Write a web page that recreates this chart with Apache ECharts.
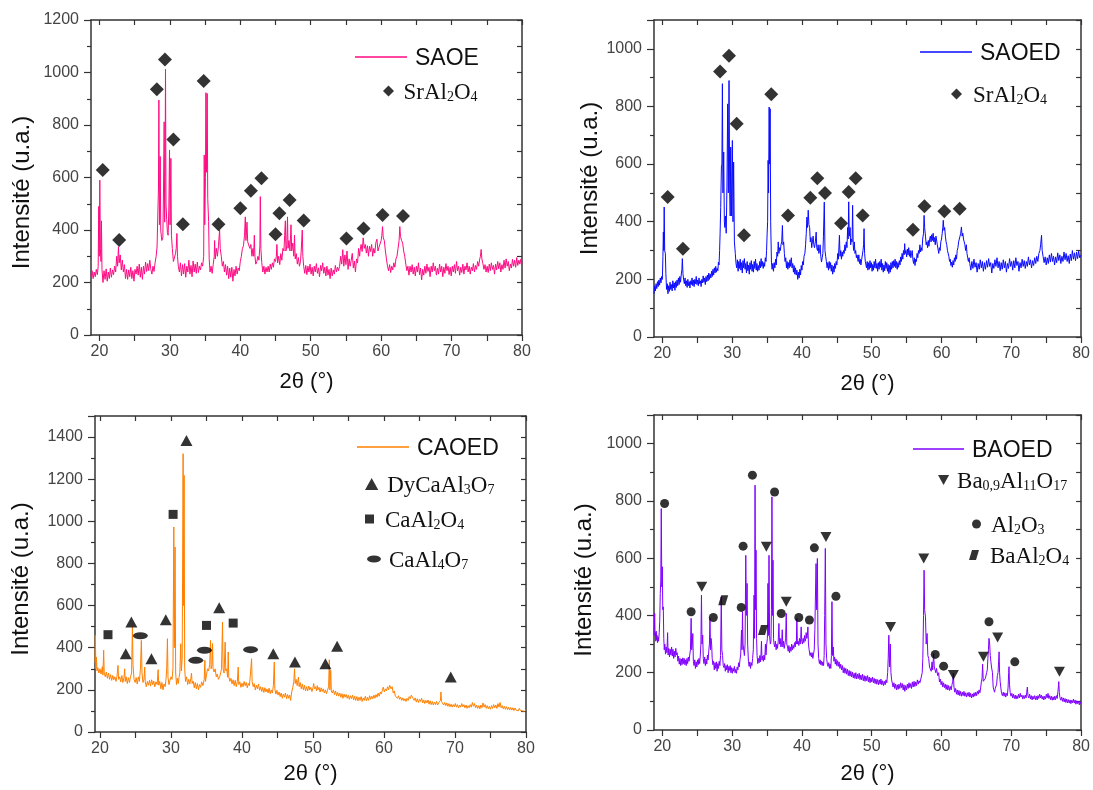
<!DOCTYPE html>
<html><head><meta charset="utf-8">
<script src="https://cdn.jsdelivr.net/npm/echarts@6/dist/echarts.min.js"></script>
<style>html,body{margin:0;padding:0;background:#fff}#c{width:1093px;height:790px}</style>
</head><body><div id="c"></div>
<script>
const xLabels = [20,30,40,50,60,70,80];
const xTicks = [20,25,30,35,40,45,50,55,60,65,70,75,80];

const saoe = [[18.8,225],[18.95,245],[19.1,215],[19.25,240],[19.4,222],[19.55,250],[19.7,230],[19.82,262],[19.9,490],[19.97,300],[20.05,590],[20.13,330],[20.22,280],[20.28,435],[20.36,250],[20.5,200],[20.65,245],[20.8,212],[20.95,252],[21.1,205],[21.25,240],[21.4,215],[21.55,255],[21.7,220],[21.85,248],[22.0,230],[22.15,262],[22.3,240],[22.45,300],[22.58,262],[22.7,336],[22.8,275],[22.95,305],[23.1,248],[23.25,285],[23.4,240],[23.55,268],[23.7,215],[23.85,250],[24.0,212],[24.15,248],[24.3,222],[24.45,258],[24.6,215],[24.75,245],[24.9,205],[25.05,250],[25.2,232],[25.35,262],[25.5,228],[25.65,270],[25.8,220],[25.95,258],[26.1,212],[26.25,262],[26.4,232],[26.55,278],[26.7,242],[26.85,272],[27.0,245],[27.15,285],[27.3,250],[27.45,232],[27.6,262],[27.75,242],[27.9,275],[28.05,300],[28.18,335],[28.3,340],[28.38,560],[28.44,895],[28.52,420],[28.58,520],[28.63,680],[28.7,400],[28.85,360],[29.0,370],[29.1,560],[29.19,812],[29.26,430],[29.32,600],[29.38,1012],[29.45,500],[29.55,440],[29.65,390],[29.75,380],[29.85,480],[29.95,705],[30.03,420],[30.14,673],[30.22,380],[30.35,330],[30.5,280],[30.65,275],[30.8,310],[30.9,330],[31.0,387],[31.08,300],[31.2,262],[31.35,240],[31.5,275],[31.65,225],[31.8,268],[31.95,232],[32.1,272],[32.25,220],[32.4,262],[32.55,240],[32.7,285],[32.85,232],[33.0,265],[33.15,222],[33.3,282],[33.45,240],[33.6,270],[33.75,235],[33.9,278],[34.05,238],[34.2,262],[34.35,248],[34.5,275],[34.65,262],[34.8,300],[34.88,686],[34.95,420],[35.05,600],[35.12,923],[35.2,620],[35.3,920],[35.38,520],[35.5,432],[35.58,290],[35.7,240],[35.85,262],[36.0,235],[36.15,268],[36.3,300],[36.35,360],[36.45,290],[36.6,330],[36.75,300],[36.9,340],[37.06,400],[37.15,330],[37.3,300],[37.45,262],[37.6,280],[37.75,240],[37.9,268],[38.05,228],[38.2,262],[38.35,215],[38.5,255],[38.65,220],[38.8,258],[38.95,205],[39.1,250],[39.25,225],[39.4,262],[39.55,232],[39.7,255],[39.85,245],[40.0,280],[40.15,300],[40.3,330],[40.45,340],[40.6,380],[40.71,450],[40.8,360],[40.95,430],[41.05,355],[41.2,350],[41.35,330],[41.5,345],[41.65,300],[41.8,330],[41.9,300],[41.99,380],[42.08,300],[42.2,270],[42.35,280],[42.5,300],[42.65,285],[42.78,340],[42.84,527],[42.92,330],[43.05,275],[43.2,240],[43.35,262],[43.5,232],[43.65,258],[43.8,240],[43.95,262],[44.1,240],[44.25,270],[44.4,250],[44.55,275],[44.7,258],[44.85,290],[45.0,280],[45.12,300],[45.2,345],[45.3,275],[45.45,300],[45.6,268],[45.75,310],[45.9,285],[46.05,330],[46.2,320],[46.3,380],[46.4,435],[46.48,320],[46.6,340],[46.7,450],[46.78,330],[46.9,360],[47.05,320],[47.2,420],[47.3,320],[47.45,350],[47.6,300],[47.7,380],[47.8,290],[47.95,310],[48.1,270],[48.25,295],[48.4,262],[48.55,280],[48.65,320],[48.8,400],[48.88,300],[49.0,262],[49.15,235],[49.3,265],[49.45,230],[49.6,262],[49.75,240],[49.9,270],[50.05,232],[50.2,258],[50.35,225],[50.5,262],[50.65,240],[50.8,272],[50.95,235],[51.1,256],[51.25,222],[51.4,265],[51.55,245],[51.7,275],[51.85,235],[52.0,258],[52.15,225],[52.3,262],[52.45,228],[52.6,250],[52.75,215],[52.9,255],[53.05,225],[53.2,248],[53.35,232],[53.5,265],[53.65,240],[53.8,258],[53.95,245],[54.1,262],[54.25,300],[54.4,270],[54.55,325],[54.7,262],[54.85,305],[55.0,268],[55.15,320],[55.3,250],[55.45,290],[55.6,262],[55.75,285],[55.9,311],[56.05,255],[56.2,282],[56.35,240],[56.5,290],[56.65,275],[56.8,330],[56.95,300],[57.0,320],[57.15,345],[57.3,318],[57.45,370],[57.6,330],[57.75,345],[57.9,312],[58.05,340],[58.2,300],[58.35,338],[58.5,318],[58.65,345],[58.8,300],[58.95,330],[59.1,312],[59.25,352],[59.4,365],[59.55,320],[59.7,335],[59.85,330],[60.0,360],[60.1,380],[60.2,413],[60.3,370],[60.45,360],[60.6,320],[60.75,290],[60.9,262],[61.05,245],[61.2,268],[61.35,238],[61.5,262],[61.65,248],[61.8,275],[61.95,258],[62.1,290],[62.25,300],[62.4,330],[62.55,360],[62.65,413],[62.75,375],[62.9,360],[63.05,350],[63.2,320],[63.35,300],[63.5,270],[63.65,245],[63.8,262],[63.95,228],[64.1,262],[64.25,240],[64.4,268],[64.55,232],[64.7,258],[64.85,225],[65.0,262],[65.15,240],[65.3,275],[65.45,230],[65.6,255],[65.75,210],[65.9,250],[66.05,228],[66.2,262],[66.35,235],[66.5,270],[66.65,242],[66.8,258],[66.95,222],[67.1,262],[67.25,240],[67.4,275],[67.55,245],[67.7,262],[67.85,228],[68.0,255],[68.15,232],[68.3,270],[68.45,240],[68.6,262],[68.75,222],[68.9,258],[69.05,235],[69.2,272],[69.35,245],[69.5,262],[69.65,230],[69.8,258],[69.95,225],[70.1,262],[70.25,240],[70.4,268],[70.55,235],[70.7,280],[70.85,245],[71.0,262],[71.15,228],[71.3,258],[71.45,238],[71.6,270],[71.75,232],[71.9,262],[72.05,248],[72.2,275],[72.35,240],[72.5,262],[72.65,232],[72.8,258],[72.95,245],[73.1,272],[73.25,240],[73.4,265],[73.55,250],[73.7,280],[73.85,262],[74.0,290],[74.1,300],[74.2,326],[74.3,290],[74.45,272],[74.6,250],[74.75,268],[74.9,240],[75.05,262],[75.2,238],[75.35,270],[75.5,245],[75.65,275],[75.8,250],[75.95,265],[76.1,232],[76.25,270],[76.4,248],[76.55,280],[76.7,252],[76.85,275],[77.0,240],[77.15,268],[77.3,250],[77.45,285],[77.6,255],[77.75,290],[77.9,262],[78.05,280],[78.2,245],[78.35,270],[78.5,255],[78.65,288],[78.8,262],[78.95,285],[79.1,258],[79.25,295],[79.4,265],[79.55,285],[79.7,270],[79.85,290],[80.0,272]];
const saoeMarks = [[20.47,629],[22.8,362],[28.15,936],[29.3,1050],[30.5,745],[31.85,422],[34.8,968],[36.9,422],[40.0,483],[41.5,550],[43.0,597],[45.0,384],[45.55,464],[47.0,514],[49.0,436],[55.07,368],[57.5,406],[60.2,457],[63.1,453]];

const saoed = [[18.8,150],[18.9,178],[19.0,160],[19.1,185],[19.2,168],[19.3,192],[19.4,175],[19.5,198],[19.6,180],[19.7,205],[19.8,188],[19.9,210],[20.0,200],[20.08,280],[20.14,364],[20.2,300],[20.26,451],[20.33,300],[20.43,289],[20.5,220],[20.6,165],[20.7,185],[20.8,150],[20.9,178],[21.0,158],[21.1,190],[21.2,165],[21.3,182],[21.4,160],[21.5,195],[21.6,170],[21.7,188],[21.8,162],[21.9,192],[22.0,172],[22.1,198],[22.2,178],[22.3,205],[22.4,182],[22.5,210],[22.6,190],[22.7,215],[22.8,235],[22.86,272],[22.95,220],[23.05,198],[23.15,185],[23.25,205],[23.35,178],[23.45,195],[23.55,172],[23.65,200],[23.75,178],[23.85,192],[23.95,170],[24.05,195],[24.15,182],[24.25,205],[24.35,178],[24.45,198],[24.55,175],[24.65,200],[24.75,185],[24.85,210],[24.95,182],[25.05,198],[25.15,178],[25.25,205],[25.35,185],[25.45,195],[25.55,175],[25.65,200],[25.75,188],[25.85,212],[25.95,190],[26.05,205],[26.15,182],[26.25,210],[26.35,192],[26.45,215],[26.55,195],[26.65,222],[26.75,200],[26.85,218],[26.95,205],[27.05,228],[27.15,210],[27.25,235],[27.35,215],[27.45,240],[27.55,222],[27.65,245],[27.75,225],[27.85,238],[27.95,230],[28.03,260],[28.12,250],[28.2,300],[28.27,358],[28.36,450],[28.46,590],[28.53,600],[28.6,879],[28.68,500],[28.79,642],[28.88,400],[28.95,380],[29.03,420],[29.15,360],[29.25,520],[29.36,809],[29.45,500],[29.55,890],[29.65,500],[29.72,420],[29.79,659],[29.9,420],[30.03,682],[30.12,400],[30.21,607],[30.32,330],[30.45,290],[30.55,255],[30.65,240],[30.75,268],[30.85,228],[30.95,262],[31.05,238],[31.15,270],[31.25,232],[31.35,258],[31.45,222],[31.55,265],[31.65,240],[31.75,272],[31.85,235],[31.95,255],[32.05,222],[32.15,262],[32.25,230],[32.35,250],[32.45,218],[32.55,258],[32.65,235],[32.75,265],[32.85,228],[32.95,252],[33.05,225],[33.15,262],[33.25,238],[33.35,270],[33.45,232],[33.55,255],[33.65,228],[33.75,248],[33.85,232],[33.95,262],[34.05,240],[34.15,272],[34.25,245],[34.35,262],[34.45,238],[34.55,258],[34.65,245],[34.75,275],[34.85,262],[34.93,300],[35.01,358],[35.08,400],[35.15,613],[35.22,500],[35.3,798],[35.37,600],[35.44,792],[35.52,400],[35.63,260],[35.72,235],[35.82,255],[35.92,228],[36.02,258],[36.12,240],[36.22,270],[36.32,250],[36.42,295],[36.52,280],[36.6,330],[36.7,290],[36.8,310],[36.9,300],[37.0,320],[37.1,330],[37.2,387],[37.28,320],[37.38,330],[37.48,290],[37.58,262],[37.68,275],[37.78,240],[37.88,262],[37.98,235],[38.08,258],[38.18,240],[38.28,268],[38.38,245],[38.48,275],[38.58,240],[38.68,255],[38.78,225],[38.88,248],[38.98,218],[39.08,240],[39.18,215],[39.28,232],[39.4,200],[39.5,225],[39.6,205],[39.7,235],[39.8,215],[39.9,248],[40.0,232],[40.1,262],[40.2,250],[40.3,280],[40.42,290],[40.52,320],[40.62,360],[40.71,416],[40.8,380],[40.9,440],[41.0,390],[41.1,380],[41.2,330],[41.3,345],[41.4,310],[41.5,330],[41.6,350],[41.7,320],[41.8,310],[41.92,330],[42.04,364],[42.12,310],[42.22,300],[42.32,320],[42.42,290],[42.52,300],[42.6,320],[42.7,280],[42.8,260],[42.9,275],[43.0,290],[43.08,350],[43.2,468],[43.3,300],[43.4,280],[43.5,262],[43.6,240],[43.7,258],[43.8,232],[43.9,262],[44.0,238],[44.1,258],[44.2,228],[44.3,250],[44.4,218],[44.5,245],[44.6,225],[44.7,255],[44.8,238],[44.9,262],[45.0,250],[45.13,290],[45.22,270],[45.37,353],[45.46,280],[45.56,300],[45.66,270],[45.76,295],[45.84,280],[45.95,300],[46.05,290],[46.15,320],[46.25,300],[46.35,330],[46.45,310],[46.55,380],[46.62,340],[46.7,469],[46.78,350],[46.9,380],[46.98,320],[47.08,340],[47.18,330],[47.26,457],[47.34,320],[47.42,300],[47.5,330],[47.6,290],[47.7,300],[47.8,275],[47.9,285],[47.97,280],[48.05,262],[48.15,285],[48.25,255],[48.35,270],[48.45,250],[48.55,268],[48.65,262],[48.75,300],[48.83,320],[48.9,376],[48.98,290],[49.08,262],[49.15,260],[49.25,240],[49.35,262],[49.45,232],[49.55,258],[49.65,235],[49.75,265],[49.85,240],[49.95,258],[50.05,228],[50.15,252],[50.25,232],[50.35,262],[50.45,240],[50.55,270],[50.65,238],[50.75,255],[50.85,228],[50.95,258],[51.05,235],[51.15,262],[51.25,242],[51.35,270],[51.45,232],[51.55,255],[51.65,225],[51.75,250],[51.85,230],[51.95,262],[52.05,238],[52.15,258],[52.25,228],[52.35,252],[52.45,220],[52.55,248],[52.65,225],[52.75,258],[52.85,235],[52.95,262],[53.05,240],[53.15,265],[53.25,245],[53.35,270],[53.45,240],[53.55,262],[53.65,235],[53.75,258],[53.85,242],[53.95,265],[54.05,250],[54.15,278],[54.25,262],[54.35,290],[54.45,270],[54.55,300],[54.65,285],[54.72,324],[54.8,290],[54.9,300],[55.0,278],[55.1,305],[55.2,285],[55.3,310],[55.4,280],[55.5,300],[55.6,275],[55.7,290],[55.8,300],[55.9,268],[56.0,255],[56.1,275],[56.2,248],[56.3,270],[56.4,262],[56.5,290],[56.6,275],[56.7,300],[56.8,290],[56.9,320],[57.0,295],[57.1,310],[57.2,300],[57.3,340],[57.42,360],[57.5,422],[57.58,380],[57.7,350],[57.8,320],[57.9,330],[58.0,310],[58.1,335],[58.2,315],[58.3,340],[58.4,350],[58.5,330],[58.6,355],[58.7,335],[58.8,360],[58.9,330],[59.0,345],[59.1,320],[59.2,350],[59.3,355],[59.4,320],[59.5,305],[59.6,290],[59.7,310],[59.8,300],[59.9,330],[60.0,340],[60.1,360],[60.18,380],[60.25,405],[60.35,370],[60.45,380],[60.55,350],[60.65,330],[60.75,320],[60.85,300],[60.96,300],[61.05,280],[61.15,262],[61.25,270],[61.35,248],[61.43,260],[61.55,242],[61.65,265],[61.75,250],[61.85,275],[61.95,262],[62.05,285],[62.15,270],[62.25,300],[62.35,310],[62.45,330],[62.55,340],[62.65,350],[62.75,360],[62.85,382],[62.95,350],[63.05,360],[63.15,340],[63.25,330],[63.35,320],[63.45,300],[63.56,320],[63.65,290],[63.75,275],[63.85,262],[63.95,275],[64.05,255],[64.2,232],[64.35,262],[64.5,238],[64.65,270],[64.8,242],[64.95,258],[65.1,225],[65.25,255],[65.4,235],[65.55,268],[65.7,240],[65.85,262],[66.0,228],[66.15,258],[66.3,235],[66.45,265],[66.6,242],[66.75,272],[66.9,245],[67.05,258],[67.2,222],[67.35,255],[67.5,238],[67.65,268],[67.8,245],[67.95,275],[68.1,240],[68.25,262],[68.4,230],[68.55,258],[68.7,235],[68.85,268],[69.0,240],[69.15,262],[69.3,225],[69.45,255],[69.6,238],[69.75,272],[69.9,245],[70.05,262],[70.2,232],[70.35,265],[70.5,240],[70.65,275],[70.8,248],[70.95,262],[71.1,228],[71.25,258],[71.4,240],[71.55,270],[71.7,245],[71.85,265],[72.0,238],[72.15,262],[72.3,245],[72.45,278],[72.6,250],[72.75,268],[72.9,240],[73.05,265],[73.2,248],[73.35,275],[73.5,255],[73.65,280],[73.8,262],[73.95,290],[74.1,300],[74.2,320],[74.33,353],[74.42,300],[74.55,280],[74.7,258],[74.85,278],[75.0,250],[75.15,275],[75.3,255],[75.45,285],[75.6,260],[75.75,290],[75.9,262],[76.05,280],[76.2,250],[76.35,278],[76.5,258],[76.65,292],[76.8,265],[76.95,285],[77.1,255],[77.25,280],[77.4,262],[77.55,295],[77.7,268],[77.85,290],[78.0,262],[78.15,282],[78.3,255],[78.45,288],[78.6,265],[78.75,300],[78.9,270],[79.05,292],[79.2,265],[79.35,295],[79.5,272],[79.65,298],[79.8,275],[80.0,285]];
const saoedMarks = [[20.76,486],[22.95,306],[28.27,921],[29.55,976],[30.65,740],[31.7,353],[35.6,842],[38.0,422],[41.2,483],[42.2,551],[43.3,500],[45.6,395],[46.7,503],[47.7,551],[48.7,422],[55.9,372],[57.55,454],[60.4,436],[62.6,445]];

const caoed = [[19.3,330],[19.35,459],[19.42,300],[19.5,356],[19.58,290],[19.7,305],[19.85,280],[20.0,300],[20.15,275],[20.33,310],[20.42,270],[20.52,388],[20.6,280],[20.75,262],[20.9,285],[21.05,255],[21.2,280],[21.35,250],[21.5,272],[21.65,245],[21.8,268],[21.95,248],[22.1,262],[22.25,240],[22.4,265],[22.54,316],[22.62,250],[22.78,262],[22.92,238],[23.08,268],[23.22,235],[23.38,258],[23.48,300],[23.56,240],[23.7,262],[23.85,230],[24.0,258],[24.15,235],[24.3,262],[24.45,280],[24.57,498],[24.65,320],[24.8,250],[24.95,235],[25.1,258],[25.25,228],[25.4,262],[25.55,240],[25.7,300],[25.83,435],[25.92,280],[26.05,235],[26.2,250],[26.3,308],[26.38,238],[26.52,215],[26.68,240],[26.82,222],[26.98,245],[27.12,218],[27.28,248],[27.42,225],[27.58,242],[27.72,215],[27.88,238],[28.05,225],[28.19,296],[28.28,222],[28.42,240],[28.58,205],[28.72,235],[28.88,200],[29.02,228],[29.18,215],[29.3,250],[29.4,300],[29.5,443],[29.58,260],[29.72,225],[29.85,245],[30.0,262],[30.15,250],[30.28,300],[30.4,973],[30.48,400],[30.58,878],[30.66,280],[30.78,225],[30.9,255],[31.02,230],[31.15,262],[31.25,280],[31.38,419],[31.46,290],[31.58,350],[31.71,1321],[31.78,600],[31.85,1218],[31.93,300],[32.05,240],[32.2,262],[32.35,225],[32.5,250],[32.65,228],[32.8,255],[32.89,280],[32.98,230],[33.12,242],[33.28,210],[33.42,235],[33.58,205],[33.72,230],[33.88,200],[34.02,225],[34.18,212],[34.32,238],[34.5,220],[34.68,250],[34.77,340],[34.85,240],[35.0,270],[35.15,300],[35.3,290],[35.45,320],[35.57,435],[35.65,300],[35.78,320],[35.85,420],[35.93,300],[36.08,285],[36.22,300],[36.38,262],[36.52,275],[36.68,250],[36.85,262],[37.0,280],[37.12,300],[37.26,522],[37.34,300],[37.48,280],[37.63,427],[37.72,290],[37.85,300],[37.98,260],[38.06,380],[38.14,262],[38.3,240],[38.45,255],[38.6,228],[38.75,248],[38.9,220],[39.05,245],[39.2,215],[39.35,240],[39.47,308],[39.55,225],[39.7,238],[39.85,212],[40.0,232],[40.15,215],[40.3,240],[40.45,220],[40.6,235],[40.75,210],[40.9,230],[41.05,220],[41.2,280],[41.35,348],[41.43,240],[41.58,215],[41.72,230],[41.88,200],[42.02,222],[42.18,205],[42.32,228],[42.48,198],[42.62,215],[42.78,192],[42.92,212],[43.08,188],[43.22,210],[43.38,190],[43.52,205],[43.68,185],[43.82,208],[43.98,182],[44.12,200],[44.28,185],[44.42,220],[44.55,332],[44.62,205],[44.78,180],[44.92,198],[45.08,175],[45.22,190],[45.38,168],[45.52,185],[45.68,160],[45.82,180],[45.98,165],[46.12,185],[46.28,158],[46.42,178],[46.58,160],[46.72,175],[46.85,150],[47.0,190],[47.15,210],[47.3,240],[47.4,300],[47.5,230],[47.62,250],[47.78,220],[47.95,261],[48.05,215],[48.2,235],[48.35,205],[48.5,228],[48.65,200],[48.8,222],[48.95,195],[49.1,215],[49.25,195],[49.4,218],[49.55,200],[49.7,212],[49.85,192],[50.0,210],[50.1,230],[50.2,205],[50.35,215],[50.5,195],[50.6,220],[50.7,200],[50.85,212],[51.0,190],[51.15,210],[51.3,192],[51.45,205],[51.6,185],[51.75,200],[51.9,182],[52.05,198],[52.2,215],[52.3,343],[52.38,200],[52.5,293],[52.58,195],[52.72,185],[52.88,200],[53.02,178],[53.18,195],[53.32,172],[53.48,188],[53.62,170],[53.78,185],[53.92,165],[54.08,182],[54.22,160],[54.38,180],[54.52,165],[54.68,178],[54.82,160],[54.98,175],[55.12,155],[55.28,172],[55.42,158],[55.58,175],[55.72,152],[55.88,170],[56.02,150],[56.18,168],[56.32,148],[56.48,165],[56.62,150],[56.78,168],[56.92,145],[57.08,162],[57.22,150],[57.38,170],[57.52,148],[57.68,165],[57.82,150],[57.98,172],[58.12,155],[58.28,170],[58.42,158],[58.58,175],[58.72,160],[58.88,178],[59.02,165],[59.18,185],[59.32,170],[59.48,190],[59.62,180],[59.78,200],[59.9,213],[60.05,190],[60.2,205],[60.35,195],[60.5,215],[60.65,200],[60.8,222],[60.9,229],[61.0,205],[61.15,215],[61.3,185],[61.45,195],[61.6,170],[61.75,178],[61.9,160],[62.05,172],[62.2,155],[62.35,165],[62.5,150],[62.65,162],[62.8,148],[62.95,158],[63.1,145],[63.25,160],[63.4,150],[63.55,168],[63.7,158],[63.85,175],[63.95,180],[64.1,160],[64.25,150],[64.4,162],[64.55,142],[64.7,158],[64.85,140],[65.0,155],[65.15,145],[65.3,160],[65.45,138],[65.6,152],[65.75,135],[65.9,150],[66.05,138],[66.2,152],[66.35,132],[66.5,148],[66.65,130],[66.8,145],[66.95,128],[67.1,142],[67.25,130],[67.4,145],[67.55,128],[67.7,138],[67.85,130],[67.95,150],[68.02,190],[68.1,145],[68.25,138],[68.4,128],[68.55,140],[68.7,125],[68.85,138],[69.0,122],[69.15,135],[69.3,120],[69.45,132],[69.6,118],[69.75,130],[69.9,120],[70.05,135],[70.2,118],[70.35,130],[70.5,115],[70.65,128],[70.8,118],[70.95,135],[71.1,120],[71.25,130],[71.4,115],[71.55,128],[71.7,112],[71.85,125],[72.0,115],[72.15,130],[72.3,118],[72.45,140],[72.6,122],[72.75,135],[72.9,115],[73.05,128],[73.2,112],[73.35,125],[73.5,110],[73.65,128],[73.8,115],[73.95,138],[74.1,118],[74.25,130],[74.4,112],[74.55,125],[74.7,110],[74.85,122],[75.0,108],[75.15,125],[75.3,112],[75.45,130],[75.6,115],[75.75,128],[75.9,112],[76.05,135],[76.2,118],[76.35,140],[76.5,115],[76.65,125],[76.8,110],[76.95,122],[77.1,108],[77.25,120],[77.4,106],[77.55,118],[77.7,105],[77.85,116],[78.0,104],[78.15,115],[78.3,102],[78.45,114],[78.6,104],[78.75,112],[78.9,100],[79.05,112],[79.2,102],[79.35,110],[79.5,100],[79.65,108],[79.8,98],[80.0,105]];
const dycaMarks = [[23.63,372],[24.42,522],[27.25,348],[29.27,533],[32.18,1384],[36.79,590],[44.41,372],[47.46,332],[51.75,324],[53.4,407],[69.4,261]];
const caal2Marks = [[21.13,462],[30.3,1033],[35.0,506],[38.76,517]];
const caal4Marks = [[25.69,457],[33.5,340],[34.72,388],[41.21,391]];

const baoed = [[18.8,330],[18.85,360],[18.9,407],[18.95,330],[19.0,340],[19.06,310],[19.12,345],[19.18,315],[19.23,331],[19.3,305],[19.38,325],[19.46,310],[19.55,340],[19.62,380],[19.7,477],[19.77,520],[19.84,773],[19.92,500],[19.99,570],[20.06,420],[20.13,430],[20.2,320],[20.27,280],[20.35,300],[20.45,265],[20.55,290],[20.65,270],[20.75,340],[20.82,262],[20.92,285],[21.02,255],[21.12,282],[21.22,262],[21.32,290],[21.42,258],[21.52,282],[21.62,250],[21.72,275],[21.82,255],[21.92,285],[22.02,262],[22.12,270],[22.22,240],[22.32,258],[22.42,230],[22.52,250],[22.62,225],[22.72,248],[22.82,228],[22.92,252],[23.02,232],[23.12,250],[23.22,228],[23.32,245],[23.42,225],[23.52,250],[23.62,232],[23.72,255],[23.82,240],[23.92,262],[24.02,280],[24.12,390],[24.2,280],[24.28,300],[24.36,337],[24.44,240],[24.54,225],[24.64,245],[24.74,215],[24.84,238],[24.94,220],[25.04,245],[25.14,228],[25.24,250],[25.34,232],[25.44,262],[25.52,300],[25.6,471],[25.68,300],[25.78,331],[25.86,250],[25.96,232],[26.06,255],[26.16,225],[26.26,248],[26.36,230],[26.46,262],[26.56,245],[26.66,280],[26.74,300],[26.82,390],[26.9,280],[26.98,320],[27.06,300],[27.14,250],[27.24,228],[27.34,240],[27.44,210],[27.54,235],[27.64,215],[27.74,238],[27.84,205],[27.94,232],[28.04,215],[28.14,240],[28.24,225],[28.34,260],[28.44,465],[28.52,280],[28.63,260],[28.72,225],[28.82,218],[28.92,232],[29.02,205],[29.12,225],[29.22,210],[29.32,228],[29.42,200],[29.52,222],[29.62,208],[29.72,225],[29.82,200],[29.92,218],[30.02,198],[30.12,215],[30.22,205],[30.32,222],[30.42,200],[30.52,212],[30.62,198],[30.72,220],[30.82,210],[30.92,235],[31.02,220],[31.12,245],[31.22,262],[31.34,349],[31.41,280],[31.48,413],[31.56,300],[31.67,300],[31.75,260],[31.85,300],[31.95,610],[32.04,400],[32.14,512],[32.22,300],[32.33,240],[32.43,222],[32.53,238],[32.63,215],[32.73,235],[32.83,225],[32.93,250],[33.03,280],[33.14,471],[33.21,320],[33.28,855],[33.35,420],[33.42,628],[33.5,320],[33.57,260],[33.67,232],[33.77,250],[33.87,235],[33.97,260],[34.07,238],[34.13,265],[34.2,310],[34.27,245],[34.37,258],[34.47,240],[34.57,262],[34.67,245],[34.77,300],[34.85,262],[34.95,300],[35.05,320],[35.13,512],[35.2,330],[35.28,610],[35.36,330],[35.47,300],[35.56,310],[35.63,420],[35.7,814],[35.78,400],[35.85,593],[35.93,320],[36.0,300],[36.1,290],[36.2,310],[36.3,280],[36.4,300],[36.5,285],[36.6,310],[36.7,372],[36.78,300],[36.88,320],[36.98,290],[37.08,300],[37.18,350],[37.26,290],[37.36,310],[37.46,285],[37.56,300],[37.66,320],[37.75,407],[37.83,300],[37.93,290],[38.03,275],[38.13,295],[38.23,270],[38.33,290],[38.43,275],[38.53,300],[38.63,280],[38.73,295],[38.83,285],[38.93,305],[39.03,290],[39.13,310],[39.2,300],[39.27,390],[39.35,300],[39.45,310],[39.55,295],[39.65,320],[39.75,300],[39.82,320],[39.89,360],[39.97,310],[40.07,300],[40.17,320],[40.27,305],[40.37,330],[40.47,310],[40.55,320],[40.6,340],[40.7,320],[40.78,330],[40.85,360],[40.93,300],[41.03,280],[41.16,260],[41.26,270],[41.36,255],[41.46,270],[41.56,250],[41.66,265],[41.76,280],[41.85,350],[41.92,450],[42.02,581],[42.1,420],[42.21,599],[42.3,300],[42.4,250],[42.5,232],[42.6,245],[42.7,228],[42.8,240],[42.9,225],[43.0,238],[43.1,225],[43.18,260],[43.26,400],[43.35,634],[43.44,300],[43.54,250],[43.64,230],[43.74,222],[43.84,235],[43.94,215],[44.04,230],[44.14,215],[44.22,260],[44.3,448],[44.38,260],[44.49,290],[44.58,240],[44.68,255],[44.78,230],[44.88,248],[44.98,225],[45.1,242],[45.2,222],[45.32,238],[45.44,215],[45.56,230],[45.68,210],[45.8,225],[45.92,200],[46.04,218],[46.16,198],[46.28,215],[46.4,195],[46.52,212],[46.64,190],[46.76,208],[46.88,188],[47.0,205],[47.12,185],[47.24,202],[47.36,182],[47.48,198],[47.6,180],[47.72,200],[47.84,178],[47.96,195],[48.08,180],[48.2,198],[48.32,176],[48.44,192],[48.56,175],[48.68,195],[48.8,172],[48.92,190],[49.04,170],[49.16,188],[49.28,172],[49.4,190],[49.52,168],[49.64,185],[49.76,165],[49.88,182],[50.0,168],[50.12,185],[50.24,165],[50.36,180],[50.48,162],[50.6,178],[50.72,160],[50.84,176],[50.96,158],[51.08,175],[51.2,160],[51.32,178],[51.44,158],[51.56,172],[51.68,155],[51.8,170],[51.92,158],[52.04,175],[52.16,165],[52.28,200],[52.36,250],[52.45,331],[52.55,220],[52.66,300],[52.75,200],[52.85,175],[52.94,170],[53.06,150],[53.18,165],[53.3,145],[53.42,160],[53.54,140],[53.66,158],[53.78,142],[53.9,160],[54.02,145],[54.14,165],[54.26,148],[54.38,162],[54.5,140],[54.62,158],[54.74,135],[54.86,155],[54.98,140],[55.1,160],[55.22,145],[55.34,165],[55.46,148],[55.58,162],[55.7,145],[55.82,168],[55.94,150],[56.06,170],[56.18,152],[56.3,168],[56.42,155],[56.54,175],[56.66,160],[56.78,172],[56.9,165],[56.99,170],[57.1,185],[57.23,200],[57.32,250],[57.42,400],[57.5,558],[57.58,420],[57.7,395],[57.8,300],[57.93,337],[58.04,260],[58.16,250],[58.28,220],[58.4,225],[58.52,205],[58.64,238],[58.74,210],[58.87,267],[58.96,220],[59.06,215],[59.18,200],[59.28,215],[59.35,221],[59.45,190],[59.59,200],[59.7,168],[59.82,178],[59.94,158],[60.06,170],[60.18,150],[60.3,165],[60.42,148],[60.54,160],[60.66,142],[60.78,158],[60.9,140],[61.02,155],[61.14,138],[61.26,152],[61.38,140],[61.5,158],[61.6,170],[61.7,198],[61.78,150],[61.9,132],[62.02,145],[62.14,125],[62.26,140],[62.38,122],[62.5,138],[62.62,120],[62.74,135],[62.86,118],[62.98,132],[63.1,120],[63.22,135],[63.34,118],[63.46,130],[63.58,115],[63.7,130],[63.82,118],[63.94,132],[64.06,115],[64.18,128],[64.3,112],[64.42,126],[64.54,115],[64.66,130],[64.78,118],[64.9,132],[65.02,120],[65.14,135],[65.26,125],[65.38,140],[65.5,130],[65.62,150],[65.72,170],[65.8,180],[65.89,230],[65.98,170],[66.08,175],[66.18,168],[66.28,180],[66.36,180],[66.46,200],[66.56,210],[66.64,250],[66.72,280],[66.8,320],[66.9,300],[66.98,260],[67.07,240],[67.16,220],[67.3,200],[67.4,150],[67.5,140],[67.6,132],[67.7,145],[67.8,140],[67.9,160],[68.0,190],[68.1,200],[68.18,240],[68.25,273],[68.32,200],[68.4,170],[68.49,150],[68.6,128],[68.72,120],[68.84,132],[68.96,118],[69.08,130],[69.2,115],[69.32,128],[69.44,120],[69.54,150],[69.62,200],[69.67,221],[69.74,160],[69.84,130],[69.96,118],[70.08,128],[70.2,112],[70.32,125],[70.44,110],[70.56,122],[70.68,108],[70.8,120],[70.92,110],[71.04,125],[71.16,112],[71.28,128],[71.4,115],[71.52,122],[71.64,108],[71.76,120],[71.88,110],[72.0,122],[72.12,112],[72.2,130],[72.3,150],[72.38,120],[72.5,112],[72.62,125],[72.74,108],[72.86,120],[72.98,105],[73.1,118],[73.22,108],[73.34,120],[73.46,106],[73.58,118],[73.7,105],[73.82,120],[73.94,110],[74.06,125],[74.18,112],[74.3,122],[74.42,108],[74.54,118],[74.66,105],[74.78,118],[74.9,108],[75.02,125],[75.14,112],[75.26,128],[75.38,110],[75.5,120],[75.62,106],[75.74,118],[75.86,104],[75.98,116],[76.1,105],[76.22,118],[76.34,106],[76.46,120],[76.58,110],[76.68,135],[76.76,155],[76.8,169],[76.88,130],[76.98,112],[77.1,104],[77.22,115],[77.34,100],[77.46,112],[77.58,98],[77.7,110],[77.82,96],[77.94,108],[78.06,95],[78.18,106],[78.3,94],[78.42,105],[78.54,92],[78.66,104],[78.78,95],[78.9,108],[79.02,94],[79.14,105],[79.26,90],[79.38,102],[79.5,92],[79.62,100],[79.74,88],[79.86,98],[80.0,90]];
const baMarks = [[25.64,500],[34.9,640],[37.75,448],[43.44,674],[52.7,360],[57.45,599],[61.7,192],[66.0,256],[68.04,323],[76.9,203]];
const alMarks = [[20.32,791],[24.12,413],[27.3,393],[31.3,428],[31.57,642],[32.9,890],[36.08,831],[37.03,407],[39.55,393],[41.07,384],[41.78,636],[44.87,467],[59.1,264],[60.3,223],[66.8,378],[70.5,238]];
const baalMarks = [[28.72,453],[34.42,349]];

const AX = '#333';
const LBL = {color:'#444', fontSize:16, fontFamily:'Liberation Sans'};
const grids = [
  {left:91, top:20, width:431, height:315},
  {left:654, top:20, width:430, height:317},
  {left:95, top:416, width:431, height:316},
  {left:654, top:415, width:429, height:315}
];
const panels = [
  {xmin:18.8, ymax:1200, yGap:57, xGap:36, yShift:30},
  {xmin:18.8, ymax:1100, yGap:50, xGap:36, yShift:0},
  {xmin:19.3, ymax:1500, yGap:62, xGap:31, yShift:10},
  {xmin:18.8, ymax:1100, yGap:58, xGap:33, yShift:15}
];
const xAxis = [], yAxis = [];
panels.forEach((p,i)=>{
  xAxis.push({type:'value', gridIndex:i, min:p.xmin, max:80, position:'bottom',
    axisLine:{show:true,onZero:false,lineStyle:{color:AX,width:1.5}},
    axisTick:{show:true,customValues:xTicks,length:6,lineStyle:{color:AX,width:1.2}},
    axisLabel:Object.assign({customValues:xLabels,margin:9,formatter:v=>String(v)},LBL),
    splitLine:{show:false},
    name:'2θ (°)', nameLocation:'middle', nameGap:p.xGap,
    nameTextStyle:{fontSize:22,color:'#111',fontFamily:'Liberation Sans'}});
  xAxis.push({type:'value', gridIndex:i, min:p.xmin, max:80, position:'top',
    axisLine:{show:true,onZero:false,lineStyle:{color:AX,width:1.5}},
    axisTick:{show:true,customValues:xTicks,inside:true,length:5,lineStyle:{color:AX,width:1.2}},
    axisLabel:{show:false}, splitLine:{show:false}});
  yAxis.push({type:'value', gridIndex:i, min:0, max:p.ymax, interval:200, position:'left',
    axisLine:{show:true,onZero:false,lineStyle:{color:AX,width:1.5}},
    axisTick:{show:true,length:7,lineStyle:{color:AX,width:1.2}},
    minorTick:{show:true,splitNumber:2,length:4,lineStyle:{color:AX,width:1.2}},
    axisLabel:Object.assign({margin:12, showMaxLabel:p.ymax%200===0, formatter:v=>String(v)},LBL),
    splitLine:{show:false}, minorSplitLine:{show:false},
    name:'Intensité (u.a.)', nameLocation:'middle', nameGap:p.yGap,
    nameTextStyle:{fontSize:24,color:'#111',fontFamily:'Liberation Sans',padding:[0,p.yShift,0,0]}});
  yAxis.push({type:'value', gridIndex:i, min:0, max:p.ymax, interval:200, position:'right',
    axisLine:{show:true,onZero:false,lineStyle:{color:AX,width:1.5}},
    axisTick:{show:true,inside:true,length:5,lineStyle:{color:AX,width:1.2}},
    minorTick:{show:true,splitNumber:2,length:5,lineStyle:{color:AX,width:1.2}},
    axisLabel:{show:false}, splitLine:{show:false}, minorSplitLine:{show:false}});
});

const DIAM = 'path://M5,0 L10,5 L5,10 L0,5 Z';
const TRI = 'path://M5,0 L10,9 L0,9 Z';
const TRID = 'path://M0,0 L10,0 L5,9 Z';
const SQR = 'path://M0,0 L10,0 L10,10 L0,10 Z';
const CIRC = 'path://M0,5 A5,5 0 1 1 10,5 A5,5 0 1 1 0,5 Z';
const PARA = 'path://M3,0 L10,0 L7,10 L0,10 Z';
const ELL = 'path://M0,5 A10,5 0 1 1 20,5 A10,5 0 1 1 0,5 Z';
function line(name, i, data, color){
  return {type:'line', name, xAxisIndex:2*i, yAxisIndex:2*i, data, symbol:'none', showSymbol:false,
    lineStyle:{width:1,color}, itemStyle:{color}, z:2, animation:false, silent:true};
}
function marks(name, i, data, symbol, size){
  return {type:'scatter', name, xAxisIndex:2*i, yAxisIndex:2*i, data, symbol, symbolSize:size,
    itemStyle:{color:'#000'}, z:3, animation:false, silent:true};
}
const series = [
  line('SAOE',0,saoe,'#ff0a82'), marks('SrAl2O4',0,saoeMarks,DIAM,14),
  line('SAOED',1,saoed,'#0a0aff'), marks('SrAl2O4 ',1,saoedMarks,DIAM,14),
  line('CAOED',2,caoed,'#ff8000'),
  marks('DyCaAl3O7',2,dycaMarks,TRI,[12,11]),
  marks('CaAl2O4',2,caal2Marks,SQR,9),
  marks('CaAl4O7',2,caal4Marks,ELL,[15,7]),
  line('BAOED',3,baoed,'#8000ff'),
  marks('Ba0,9Al11O17',3,baMarks,TRID,[11,10]),
  marks('Al2O3',3,alMarks,CIRC,9),
  marks('BaAl2O4',3,baalMarks,PARA,[10,10])
];

const rich = {
  s:{fontFamily:'Liberation Sans',fontSize:23,color:'#111',lineHeight:26,verticalAlign:'bottom',padding:[0,0,0,3]},
  m:{fontFamily:'Liberation Serif',fontSize:23,color:'#111',lineHeight:26,verticalAlign:'bottom'},
  b:{fontFamily:'Liberation Serif',fontSize:14,color:'#111',lineHeight:12,verticalAlign:'bottom'}
};
const legendText = {
  'SAOE':'{s|SAOE}', 'SAOED':'{s|SAOED}', 'CAOED':'{s|CAOED}', 'BAOED':'{s|BAOED}',
  'SrAl2O4':'{m|SrAl}{b|2}{m|O}{b|4}', 'SrAl2O4 ':'{m|SrAl}{b|2}{m|O}{b|4}',
  'DyCaAl3O7':'{m|DyCaAl}{b|3}{m|O}{b|7}', 'CaAl2O4':'{m|CaAl}{b|2}{m|O}{b|4}',
  'CaAl4O7':'{m|CaAl}{b|4}{m|O}{b|7}', 'Ba0,9Al11O17':'{m|Ba}{b|0,9}{m|Al}{b|11}{m|O}{b|17}',
  'Al2O3':'{m|Al}{b|2}{m|O}{b|3}', 'BaAl2O4':'{m|BaAl}{b|2}{m|O}{b|4}'
};
function leg(name, left, cy, w, h, isLine){
  return {data:[isLine ? {name, icon:'rect'} : name], left, top:cy-13, itemWidth:w, itemHeight:h,
    padding:0, orient:'vertical', selectedMode:false, symbolKeepAspect: !isLine,
    formatter:n=>legendText[n], textStyle:{rich}};
}
const legend = [
  leg('SAOE',355,60,52,1.5,true), leg('SrAl2O4',383,94,20,11),
  leg('SAOED',920,55,52,1.5,true), leg('SrAl2O4 ',951,97,23,11),
  leg('CAOED',357,450,52,1.5,true), leg('DyCaAl3O7',365,487,21,12), leg('CaAl2O4',365,522,21,9), leg('CaAl4O7',367,562,20,7),
  leg('BAOED',913,452,51,1.5,true), leg('Ba0,9Al11O17',938,483,17,10), leg('Al2O3',972,527,19,9), leg('BaAl2O4',969,558,22,10)
];

const chart = echarts.init(document.getElementById('c'), null, {renderer:'canvas'});
chart.setOption({backgroundColor:'#fff', animation:false,
  grid: grids.map(g=>Object.assign({containLabel:false},g)),
  xAxis, yAxis, series, legend});
</script></body></html>
